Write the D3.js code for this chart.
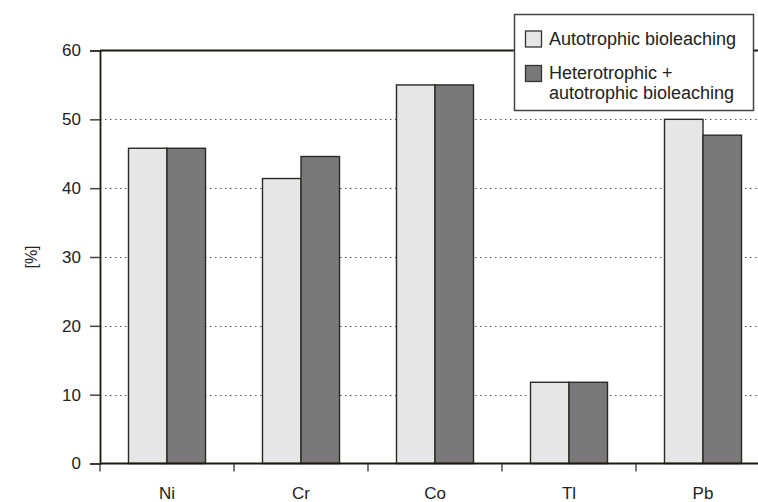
<!DOCTYPE html>
<html>
<head>
<meta charset="utf-8">
<script src="https://cdn.jsdelivr.net/npm/d3@7"></script>
<style>
  body { margin: 0; background: #fff; }
  text { font-family: "Liberation Sans", Arial, sans-serif; fill: #222; }
</style>
</head>
<body>
<div id="chart"></div>
<script>
const metals = ["Ni", "Cr", "Co", "Tl", "Pb"];
const autotrophic = [45.8, 41.4, 55.0, 11.8, 50.0];
const heteroAutotrophic = [45.8, 44.6, 55.0, 11.8, 47.7];
const seriesNames = ["Autotrophic bioleaching", "Heterotrophic + autotrophic bioleaching"];
const yTicks = [0, 10, 20, 30, 40, 50, 60];

const width = 758, height = 502;
const margin = { left: 100, top: 50.5, bottom: 38.5 };
const plotRight = 770; // the frame runs past the right edge of the picture

const svg = d3.select("#chart").append("svg")
    .attr("width", width)
    .attr("height", height);

const x = d3.scaleBand()
    .domain(metals)
    .range([margin.left, plotRight]);

const inner = d3.scaleBand()
    .domain([0, 1])
    .range([0, x.bandwidth()])
    .paddingOuter(0.74)
    .paddingInner(0);

const y = d3.scaleLinear()
    .domain([0, 60])
    .range([height - margin.bottom, margin.top]);

const colors = ["#e6e6e6", "#7a7878"];

// dotted grid
svg.append("g")
    .selectAll("line")
    .data(yTicks.filter(d => d > 0 && d < 60))
    .join("line")
    .attr("x1", margin.left)
    .attr("x2", plotRight)
    .attr("y1", d => Math.round(y(d)) + 0.5)
    .attr("y2", d => Math.round(y(d)) + 0.5)
    .attr("stroke", "#555")
    .attr("stroke-width", 1.2)
    .attr("stroke-dasharray", "1.5,3.5");

// bars
const rows = metals.map((m, i) => ({ metal: m, values: [autotrophic[i], heteroAutotrophic[i]] }));

svg.append("g")
    .selectAll("g")
    .data(rows)
    .join("g")
    .attr("transform", d => `translate(${x(d.metal)},0)`)
    .selectAll("rect")
    .data(d => d.values.map((v, k) => ({ k, v })))
    .join("rect")
    .attr("x", d => inner(d.k))
    .attr("width", inner.bandwidth())
    .attr("y", d => y(d.v))
    .attr("height", d => y(0) - y(d.v))
    .attr("fill", d => colors[d.k])
    .attr("stroke", "#2a2a22")
    .attr("stroke-width", 1.4);

// frame: top line
svg.append("line")
    .attr("x1", margin.left).attr("x2", plotRight)
    .attr("y1", y(60)).attr("y2", y(60))
    .attr("stroke", "#1c1a10").attr("stroke-width", 1.8);

// y axis
const yAxis = svg.append("g")
    .attr("transform", `translate(${margin.left},0)`)
    .call(d3.axisLeft(y).tickValues(yTicks).tickSize(10).tickPadding(9));
yAxis.select(".domain").attr("stroke", "#1c1a10").attr("stroke-width", 1.8);
yAxis.selectAll(".tick line").attr("stroke", "#444").attr("stroke-width", 1.5);
yAxis.selectAll("text")
    .style("font-size", "17px")
    .attr("fill", "#222");

// x axis
const tickPositions = d3.range(metals.length + 1).map(i => margin.left + i * x.step());
const xAxis = svg.append("g")
    .attr("transform", `translate(0,${y(0)})`);
xAxis.append("line")
    .attr("x1", margin.left).attr("x2", plotRight)
    .attr("stroke", "#1c1a10").attr("stroke-width", 1.8);
xAxis.selectAll(".tk")
    .data(tickPositions)
    .join("line")
    .attr("class", "tk")
    .attr("x1", d => d).attr("x2", d => d)
    .attr("y1", 0).attr("y2", 8)
    .attr("stroke", "#333").attr("stroke-width", 1.3);
xAxis.selectAll("text")
    .data(metals)
    .join("text")
    .attr("x", d => x(d) + x.bandwidth() / 2)
    .attr("y", 35.5)
    .attr("text-anchor", "middle")
    .style("font-size", "17px")
    .text(d => d);

// y label
svg.append("text")
    .attr("transform", "translate(37,257) rotate(-90)")
    .attr("text-anchor", "middle")
    .style("font-size", "16px")
    .text("[%]");

// legend
const legend = svg.append("g");
legend.append("rect")
    .attr("x", 514.5).attr("y", 14.5)
    .attr("width", 239).attr("height", 96)
    .attr("fill", "#fff")
    .attr("stroke", "#444")
    .attr("stroke-width", 1.5);

const legendItems = [
    { lines: ["Autotrophic bioleaching"], y: 31 },
    { lines: ["Heterotrophic +", "autotrophic bioleaching"], y: 65.5 }
];
legendItems.forEach((item, i) => {
    legend.append("rect")
        .attr("x", 525.5).attr("y", item.y)
        .attr("width", 16).attr("height", 16)
        .attr("fill", colors[i])
        .attr("stroke", "#333")
        .attr("stroke-width", 1.3);
    const t = legend.append("text")
        .attr("x", 549)
        .attr("y", item.y + 13.5)
        .style("font-size", "18px");
    item.lines.forEach((ln, j) => {
        t.append("tspan")
            .attr("x", 549)
            .attr("dy", j === 0 ? 0 : 20)
            .text(ln);
    });
});
</script>
</body>
</html>
